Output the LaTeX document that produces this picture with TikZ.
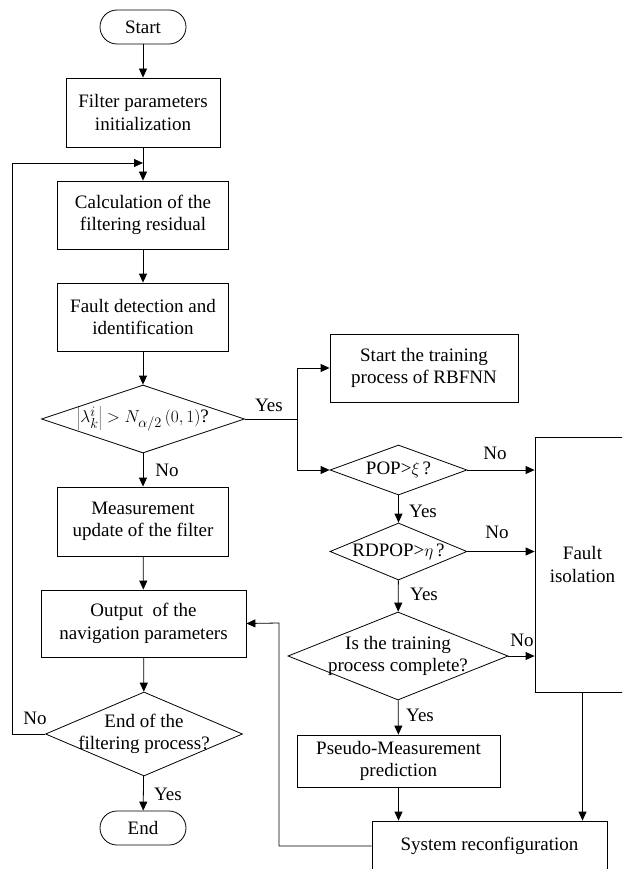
\documentclass[tikz,border=0pt]{standalone}
\usepackage{fontspec}
\setmainfont{Liberation Serif}
\usetikzlibrary{positioning, shapes.geometric, arrows.meta}

\begin{document}
\begin{tikzpicture}[x=1pt, y=-1pt, line width=0.8pt,
	font=\fontsize{19}{22.5}\selectfont,
	proc/.style={draw, rectangle, align=center, inner sep=0pt},
	term/.style={draw, rectangle, rounded corners=17pt, minimum width=86pt, minimum height=34pt, inner sep=0pt},
	dec/.style={draw, diamond, inner sep=0pt},
	txt/.style={align=center, inner sep=0pt},
	lab/.style={inner sep=0pt},
	arr/.style={-{Triangle[length=9pt, width=8pt]}}]
	\clip (0,0) rectangle (622,869);
	% left column
	\node[term] (start) at (143,27) {Start};
	\node[proc, minimum width=154pt, minimum height=69pt] (init) at (143,112.5) {Filter parameters\\initialization};
	\node[proc, minimum width=171pt, minimum height=68pt] (resid) at (143,215) {Calculation of the\\filtering residual};
	\node[proc, minimum width=171pt, minimum height=68pt] (detect) at (143,317) {Fault detection and\\identification};
	\node[dec, minimum width=203pt, minimum height=68pt] (chk) at (143,419) {};
	\node[txt] (chktxt) at (chk) {$\left|\lambda_k^i\right| > N_{\alpha/2}\left(0,1\right)$?};
	\node[proc, minimum width=171pt, minimum height=69pt] (update) at (143,521.5) {Measurement\\update of the filter};
	\node[proc, minimum width=205pt, minimum height=67pt] (output) at (143.5,623.5) {Output\ \ of the\\navigation parameters};
	\node[dec, minimum width=197pt, minimum height=84pt] (endq) at (144,734) {};
	\node[txt] (endtxt) at (endq) {End of the\\filtering process?};
	\node[term] (stop) at (143,828) {End};
	% right column
	\node[proc, minimum width=188pt, minimum height=68pt] (train) at (424,368) {Start the training\\process of RBFNN};
	\node[dec, minimum width=137pt, minimum height=50pt] (pop) at (398.5,470) {};
	\node[txt] (poptxt) at (pop) {POP>$\xi\,$?};
	\node[dec, minimum width=137pt, minimum height=57pt] (rdpop) at (398.5,551.5) {};
	\node[txt] (rdpoptxt) at (rdpop) {RDPOP>$\eta\,$?};
	\node[dec, minimum width=220pt, minimum height=88pt] (done) at (398,656) {};
	\node[txt] (donetxt) at (done) {Is the training\\process complete?};
	\node[proc, minimum width=203pt, minimum height=52pt] (pseudo) at (398.5,761) {Pseudo-Measurement\\prediction};
	\node[proc, minimum width=95pt, minimum height=255pt] (isol) at (582.5,564.5) {Fault\\isolation};
	\node[proc, minimum width=235pt, minimum height=50pt] (reconf) at (489.5,846) {System reconfiguration};
	% bend points
	\coordinate (join) at (143,163);
	\coordinate (lp) at (12,163);
	\coordinate (split) at (297,419);
	\coordinate (fb) at (279,623);
	% connectors
	\draw[arr] (start) -- (init);
	\draw[arr] (init) -- (resid);
	\draw[arr] (resid) -- (detect);
	\draw[arr] (detect) -- (chk);
	\draw[arr] (chk) -- (update);
	\draw[arr] (update) -- (output);
	\draw[arr] (output) -- (endq);
	\draw[arr] (endq) -- (stop);
	\draw[arr] (endq.west) -| (lp) -- (join);
	\draw (chk.east) -- (split);
	\draw[arr] (split) |- (train.west);
	\draw[arr] (split) |- (pop.west);
	\draw[arr] (pop) -- (rdpop);
	\draw[arr] (rdpop) -- (done);
	\draw[arr] (done) -- (pseudo);
	\draw[arr] (pop.east) -- (pop.east -| isol.west);
	\draw[arr] (rdpop.east) -- (rdpop.east -| isol.west);
	\draw[arr] (done.east) -- (done.east -| isol.west);
	\draw[arr] (pseudo.south) -- (pseudo.south |- reconf.north);
	\draw[arr] (isol.south) -- (isol.south |- reconf.north);
	\draw[arr] (reconf.west) -| (fb) -- (output.east);
	% labels
	\node[lab] (y1) at (269,405) {Yes};
	\node[lab] (n1) at (167,470) {No};
	\node[lab] (n2) at (495,453) {No};
	\node[lab] (y2) at (423,511) {Yes};
	\node[lab] (n3) at (497,532) {No};
	\node[lab] (y3) at (424,594) {Yes};
	\node[lab] (n4) at (522,640) {No};
	\node[lab] (y4) at (420,715) {Yes};
	\node[lab] (n5) at (35,718) {No};
	\node[lab] (y5) at (168,794) {Yes};
\end{tikzpicture}
\end{document}
